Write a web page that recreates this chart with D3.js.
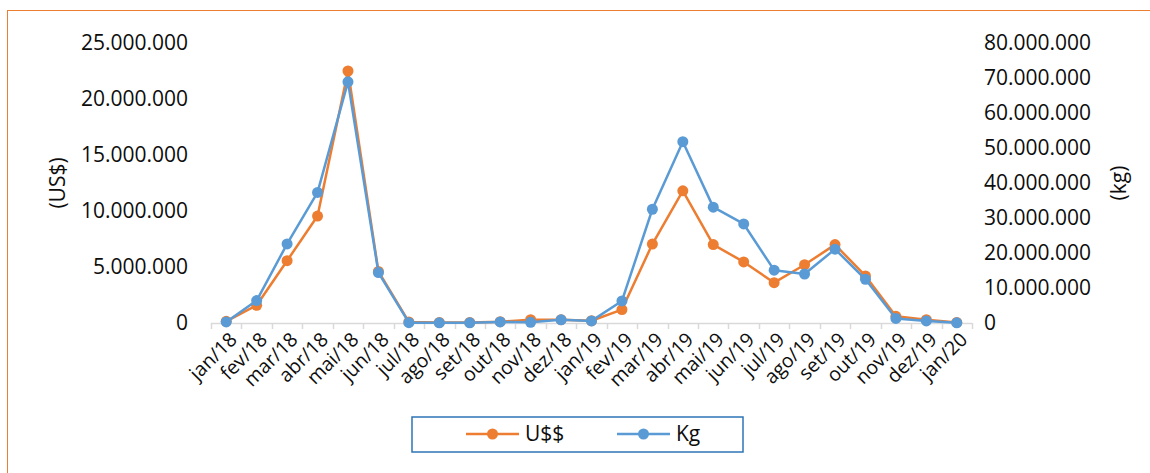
<!DOCTYPE html>
<html>
<head>
<meta charset="utf-8">
<script src="https://cdn.jsdelivr.net/npm/d3@7"></script>
<style>
  html, body { margin: 0; padding: 0; background: #fff; }
  svg { display: block; }
  text { font-family: "Open Sans", "Liberation Sans", sans-serif; fill: #0d0d0d; }
</style>
</head>
<body>
<svg id="chart" width="1150" height="473"></svg>
<script>
// Monthly categories, Jan/2018 – Jan/2020
const months = ["jan/18","fev/18","mar/18","abr/18","mai/18","jun/18","jul/18","ago/18","set/18","out/18","nov/18","dez/18",
                "jan/19","fev/19","mar/19","abr/19","mai/19","jun/19","jul/19","ago/19","set/19","out/19","nov/19","dez/19","jan/20"];

// Export value (US$), left axis
const usd = [150000, 1580000, 5560000, 9550000, 22500000, 4600000, 100000, 50000, 50000, 120000, 300000, 300000,
             200000, 1200000, 7050000, 11800000, 7000000, 5450000, 3600000, 5200000, 7000000, 4200000, 600000, 300000, 50000];

// Export volume (kg), right axis
const kg = [300000, 6400000, 22600000, 37300000, 68900000, 14400000, 100000, 50000, 50000, 300000, 200000, 900000,
            600000, 6300000, 32500000, 51800000, 33100000, 28300000, 15100000, 14000000, 21100000, 12500000, 1300000, 600000, 50000];

const usdTicks = [0, 5000000, 10000000, 15000000, 20000000, 25000000];
const kgTicks = [0, 10000000, 20000000, 30000000, 40000000, 50000000, 60000000, 70000000, 80000000];

const seriesNames = ["U$$", "Kg"];
const colors = { usd: "#ED7D31", kg: "#5B9BD5" };

const svg = d3.select("#chart");

// outer frame
svg.append("rect")
  .attr("x", 7.5).attr("y", 10.5)
  .attr("width", 1160).attr("height", 480)
  .attr("fill", "none").attr("stroke", "#ED7D31").attr("stroke-width", 1);

const plotLeft = 211, plotRight = 972, plotTop = 43, plotBottom = 323;

const x = d3.scaleBand().domain(months).range([plotLeft, plotRight]);
const cx = d => x(d) + x.bandwidth() / 2;
const yL = d3.scaleLinear().domain([0, 25000000]).range([plotBottom, plotTop]);
const yR = d3.scaleLinear().domain([0, 80000000]).range([plotBottom, plotTop]);

const fmt = v => d3.format(",")(v).replace(/,/g, ".");

// left axis labels
const axL = svg.append("g").attr("transform", `translate(${plotLeft},0)`)
  .call(d3.axisLeft(yL).tickValues(usdTicks).tickFormat(fmt).tickSize(0).tickPadding(23));
axL.select(".domain").remove();
axL.selectAll("text").style("font-size", "21px").attr("fill", null);

// right axis labels
const axR = svg.append("g").attr("transform", `translate(${plotRight},0)`)
  .call(d3.axisRight(yR).tickValues(kgTicks).tickFormat(fmt).tickSize(0).tickPadding(12));
axR.select(".domain").remove();
axR.selectAll("text").style("font-size", "21px").attr("fill", null);
svg.selectAll("g").attr("font-family", null).attr("font-size", null);

// category axis
const axB = svg.append("g").attr("transform", `translate(0,${plotBottom})`);
axB.append("line").attr("x1", plotLeft).attr("x2", plotRight).attr("y1", 0.5).attr("y2", 0.5)
  .attr("stroke", "#D9D9D9").attr("stroke-width", 1.5);
axB.selectAll("line.tick").data(months.map(m => x(m)).concat([plotRight])).join("line")
  .attr("class", "tick")
  .attr("x1", d => Math.round(d) + 0.5).attr("x2", d => Math.round(d) + 0.5)
  .attr("y1", 0).attr("y2", 6)
  .attr("stroke", "#D9D9D9").attr("stroke-width", 1.5);
axB.selectAll("text").data(months).join("text")
  .attr("transform", d => `translate(${cx(d) + 7},${13}) rotate(-45)`)
  .attr("text-anchor", "end")
  .attr("dy", "0.35em")
  .style("font-size", "19.5px")
  .text(d => d);

// axis titles
svg.append("text")
  .attr("transform", "translate(65,183) rotate(-90)")
  .attr("text-anchor", "middle")
  .style("font-size", "21px")
  .text("(US$)");
svg.append("text")
  .attr("transform", "translate(1126,183) rotate(-90)")
  .attr("text-anchor", "middle")
  .style("font-size", "21px")
  .text("(kg)");

// series
const drawSeries = (vals, scale, color) => {
  const pts = months.map((m, i) => [cx(m), scale(vals[i])]);
  svg.append("path")
    .attr("d", d3.line()(pts))
    .attr("fill", "none").attr("stroke", color)
    .attr("stroke-width", 2.5).attr("stroke-linejoin", "round");
  svg.append("g").selectAll("circle").data(pts).join("circle")
    .attr("cx", d => d[0]).attr("cy", d => d[1]).attr("r", 5.5)
    .attr("fill", color);
};
drawSeries(usd, yL, colors.usd);
drawSeries(kg, yR, colors.kg);

// legend
const lg = svg.append("g");
lg.append("rect").attr("x", 412).attr("y", 417).attr("width", 331).attr("height", 35)
  .attr("fill", "#fff").attr("stroke", "#2E75B6").attr("stroke-width", 1.5);
const items = [
  { name: seriesNames[0], color: colors.usd, x0: 466 },
  { name: seriesNames[1], color: colors.kg, x0: 617 }
];
items.forEach(it => {
  lg.append("line").attr("x1", it.x0).attr("x2", it.x0 + 53).attr("y1", 434).attr("y2", 434)
    .attr("stroke", it.color).attr("stroke-width", 2.5);
  lg.append("circle").attr("cx", it.x0 + 26.5).attr("cy", 434).attr("r", 5.5).attr("fill", it.color);
  lg.append("text").attr("x", it.x0 + 59).attr("y", 434).attr("dy", "0.35em")
    .style("font-size", "21px").text(it.name);
});
</script>
</body>
</html>
